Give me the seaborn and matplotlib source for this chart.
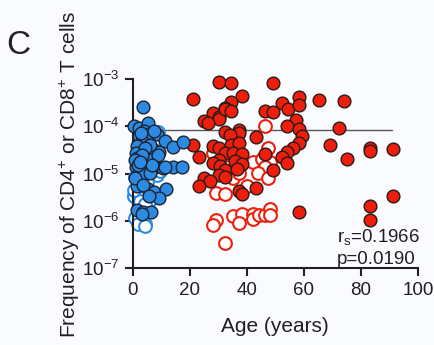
import numpy as np
import pandas as pd
import matplotlib
matplotlib.use("Agg")
import matplotlib.pyplot as plt
import seaborn as sns

# ---------------- data ----------------
# children, filled blue
blue_filled_age = [3.6, 0.35, 2.2, 5.4, 3.9, 2.1, 5.7, 8.3, 11.2, 13.9, 17.4, 3.0, 5.7, 1.5,
                   1.05, 4.6, 7.4, 9.1, 1.5, 3.9, 6.0, 1.05, 2.5, 5.4, 7.7, 10.6, 13.9, 17.2,
                   1.9, 3.9, 6.0, 1.5, 5.4, 7.4, 11.6, 9.0, 1.5, 3.6, 6.2, 3.0,
                   2.8, 7.5, 6.0, 4.2, 8.9, 3.3, 0.7, 1.9, 6.6, 11.2, 0.7, 3.6, 5.6, 2.6]
blue_filled_freq = [2.5e-4, 1.0e-4, 9.0e-5, 1.15e-4, 8.1e-5, 6.2e-5, 6.8e-5, 6.8e-5, 4.9e-5, 3.6e-5,
                    4.7e-5, 4.9e-5, 3.8e-5, 3.8e-5, 2.75e-5, 2.9e-5, 3.1e-5, 2.9e-5, 2.1e-5, 2.15e-5,
                    1.93e-5, 1.39e-5, 1.35e-5, 1.3e-5, 1.35e-5, 1.3e-5, 1.35e-5, 1.39e-5, 9.3e-6,
                    9.8e-6, 1.04e-5, 5.4e-6, 4.8e-6, 4.1e-6, 4.6e-6, 3.1e-6, 1.7e-6, 1.5e-6, 1.5e-6,
                    1.39e-6, 7.1e-5, 8.0e-5, 4.0e-5, 3.4e-5, 2.5e-5, 2.5e-5, 1.93e-5, 1.5e-5, 1.5e-5,
                    1.39e-5, 7.9e-6, 5.7e-6, 3.3e-6, 1.75e-5]
# children, open blue
blue_open_age = [8.9, 8.3, 0.7, 0.35, 4.2, 6.0, 3.6, 2.5, 1.05, 2.5, 4.2, 8.3, 0.5, 2.5,
                 4.2, 0.7, 1.6, 4.2, 5.0, 7.0, 6.5, 9.5, 0.4]
blue_open_freq = [7.7e-5, 4.9e-5, 8.3e-6, 3.4e-6, 3.4e-6, 2.8e-6, 2.3e-6, 2.0e-6, 1.2e-6,
                  1.1e-6, 8.5e-7, 9.3e-6, 3.3e-6, 2.6e-6, 2.3e-6, 1.13e-6, 8.4e-7, 7.9e-7,
                  6.5e-6, 1.8e-5, 2.3e-5, 1.15e-5, 4.5e-6]
# adults, filled red
red_filled_age = [30.2, 34.3, 49.2, 21.2, 38.1, 34.3, 32.3, 28.2, 30.3, 30.3, 32.3, 34.3,
                  52.3, 54.3, 58.1, 58.1, 65.1, 46.3, 49.2, 25.0, 26.2, 57.2, 54.1, 58.1, 59.2,
                  58.1, 56.2, 54.1, 52.2, 54.1, 32.3, 37.1, 37.1, 34.0, 43.2, 21.2, 28.2, 30.3,
                  34.3, 37.1, 32.3, 35.2, 38.1, 23.3, 30.3, 28.2, 35.8, 38.1, 30.5, 32.3, 36.4,
                  30.3, 32.3, 46.3, 49.2, 25.0, 27.0, 23.3, 37.3, 38.2, 43.2, 58.1,
                  74.1, 72.3, 69.1, 75.2, 83.2, 83.2, 91.1, 91.1, 83.2, 83.2]
red_filled_freq = [8.5e-4, 8.2e-4, 8.2e-4, 3.8e-4, 4.3e-4, 3.3e-4, 2.4e-4, 1.9e-4, 1.6e-4,
                   1.4e-4, 2.3e-4, 2.1e-4, 3.1e-4, 2.3e-4, 4.2e-4, 2.8e-4, 3.6e-4, 2.1e-4,
                   2.0e-4, 1.31e-4, 1.15e-4, 1.35e-4, 1.01e-4, 8.6e-5, 6.2e-5, 4.5e-5, 3.4e-5,
                   2.9e-5, 2.2e-5, 1.7e-5, 7.7e-5, 8.3e-5, 7.3e-5, 6.5e-5, 6.0e-5, 4.0e-5, 3.8e-5,
                   3.4e-5, 4.0e-5, 4.4e-5, 2.7e-5, 2.7e-5, 2.6e-5, 2.2e-5, 1.93e-5, 1.64e-5,
                   1.87e-5, 1.59e-5, 1.44e-5, 1.19e-5, 1.23e-5, 9.3e-6, 8.3e-6, 2.6e-5, 1.19e-5,
                   7.9e-6, 7.1e-6, 5.5e-6, 4.3e-6, 3.6e-6, 5.0e-6, 1.53e-6,
                   3.4e-4, 9.2e-5, 4.0e-5, 2.0e-5, 3.4e-5, 3.0e-5, 3.25e-5, 3.4e-6, 2.05e-6, 1.04e-6]
# adults, open red
red_open_age = [46.3, 47.5, 28.2, 42.2, 45.2, 48.1, 46.3, 44.0, 47.5, 33.4, 35.2, 35.2, 37.3,
                39.9, 29.1, 32.3, 35.2, 38.1, 37.3, 42.2, 42.2, 44.3, 46.3, 48.1, 48.1, 29.1,
                28.2, 32.3]
red_open_freq = [1.01e-4, 3.4e-5, 2.75e-5, 1.78e-5, 2.0e-5, 1.78e-5, 1.39e-5, 1.01e-5, 7.9e-6,
                 1.39e-5, 1.23e-5, 7.9e-6, 1.01e-5, 5.4e-6, 3.8e-6, 3.6e-6, 1.28e-6, 1.39e-6,
                 8.8e-7, 1.39e-6, 1.10e-6, 1.32e-6, 1.32e-6, 1.77e-6, 1.32e-6, 1.04e-6, 8.1e-7,
                 3.4e-7]

threshold = 8.3e-5
threshold_span = [0, 91]
x_ticks = [0, 20, 40, 60, 80, 100]
y_ticks = [1e-7, 1e-6, 1e-5, 1e-4, 1e-3]
y_ticklabels = ["$10^{-7}$", "$10^{-6}$", "$10^{-5}$", "$10^{-4}$", "$10^{-3}$"]

# ---------------- styling ----------------
sns.set_style("ticks")
plt.rcParams["font.family"] = ["Liberation Sans", "DejaVu Sans"]
plt.rcParams["mathtext.default"] = "regular"

INK = "#231f20"
BLUE = "#2b8be3"
RED = "#ee1e0c"
BG = "#fafbfe"

fig = plt.figure(figsize=(4.34, 3.45), dpi=100, facecolor=BG)
ax = fig.add_axes([133 / 434, 77 / 345, 285 / 434, 189 / 345])
ax.set_facecolor(BG)

ax.plot(threshold_span, [threshold, threshold], color="#5a5656", lw=1.0, zorder=1)

def df(a, f):
    return pd.DataFrame({"age": a, "freq": f})

s = 84
sns.scatterplot(data=df(red_open_age, red_open_freq), x="age", y="freq", ax=ax, s=s,
                facecolor="white", edgecolor=RED, linewidth=1.5, zorder=2, clip_on=False)
sns.scatterplot(data=df(red_filled_age, red_filled_freq), x="age", y="freq", ax=ax, s=s,
                color=RED, edgecolor="#2a1a18", linewidth=1.0, zorder=3, clip_on=False)
sns.scatterplot(data=df(blue_open_age, blue_open_freq), x="age", y="freq", ax=ax, s=s,
                facecolor="white", edgecolor=BLUE, linewidth=1.5, zorder=2, clip_on=False)
sns.scatterplot(data=df(blue_filled_age, blue_filled_freq), x="age", y="freq", ax=ax, s=s,
                color=BLUE, edgecolor="#1c2230", linewidth=1.0, zorder=3, clip_on=False)

ax.set_yscale("log")
ax.set_xlim(0, 100)
ax.set_ylim(1e-7, 1e-3)
ax.set_xticks(x_ticks)
ax.set_xticklabels([str(t) for t in x_ticks])
ax.set_yticks(y_ticks)
ax.set_yticklabels(y_ticklabels)
ax.yaxis.set_minor_locator(matplotlib.ticker.NullLocator())
ax.set_xlabel("")
ax.set_ylabel("")

for side in ["top", "right"]:
    ax.spines[side].set_visible(False)
for side in ["left", "bottom"]:
    ax.spines[side].set_color(INK)
    ax.spines[side].set_linewidth(1.5)
ax.tick_params(axis="both", which="major", length=6, width=1.5, color=INK,
               labelcolor=INK, labelsize=13.5, pad=4)

fig.text(275 / 434, 1 - 327 / 345, "Age (years)", ha="center", va="center",
         fontsize=15, color=INK)
fig.text(70 / 434, 1 - 174 / 345, "Frequency of CD4$^{+}$ or CD8$^{+}$ T cells",
         ha="center", va="center", rotation=90, fontsize=15, color=INK)
fig.text(18 / 434, 1 - 45 / 345, "C", ha="center", va="center", fontsize=24, color=INK)
fig.text(337 / 434, 1 - 237 / 345, "r$_{s}$=0.1966", ha="left", va="center",
         fontsize=13.5, color=INK)
fig.text(337 / 434, 1 - 260 / 345, "p=0.0190", ha="left", va="center",
         fontsize=13.5, color=INK)

fig.savefig("out.png", dpi=100, facecolor=BG)
